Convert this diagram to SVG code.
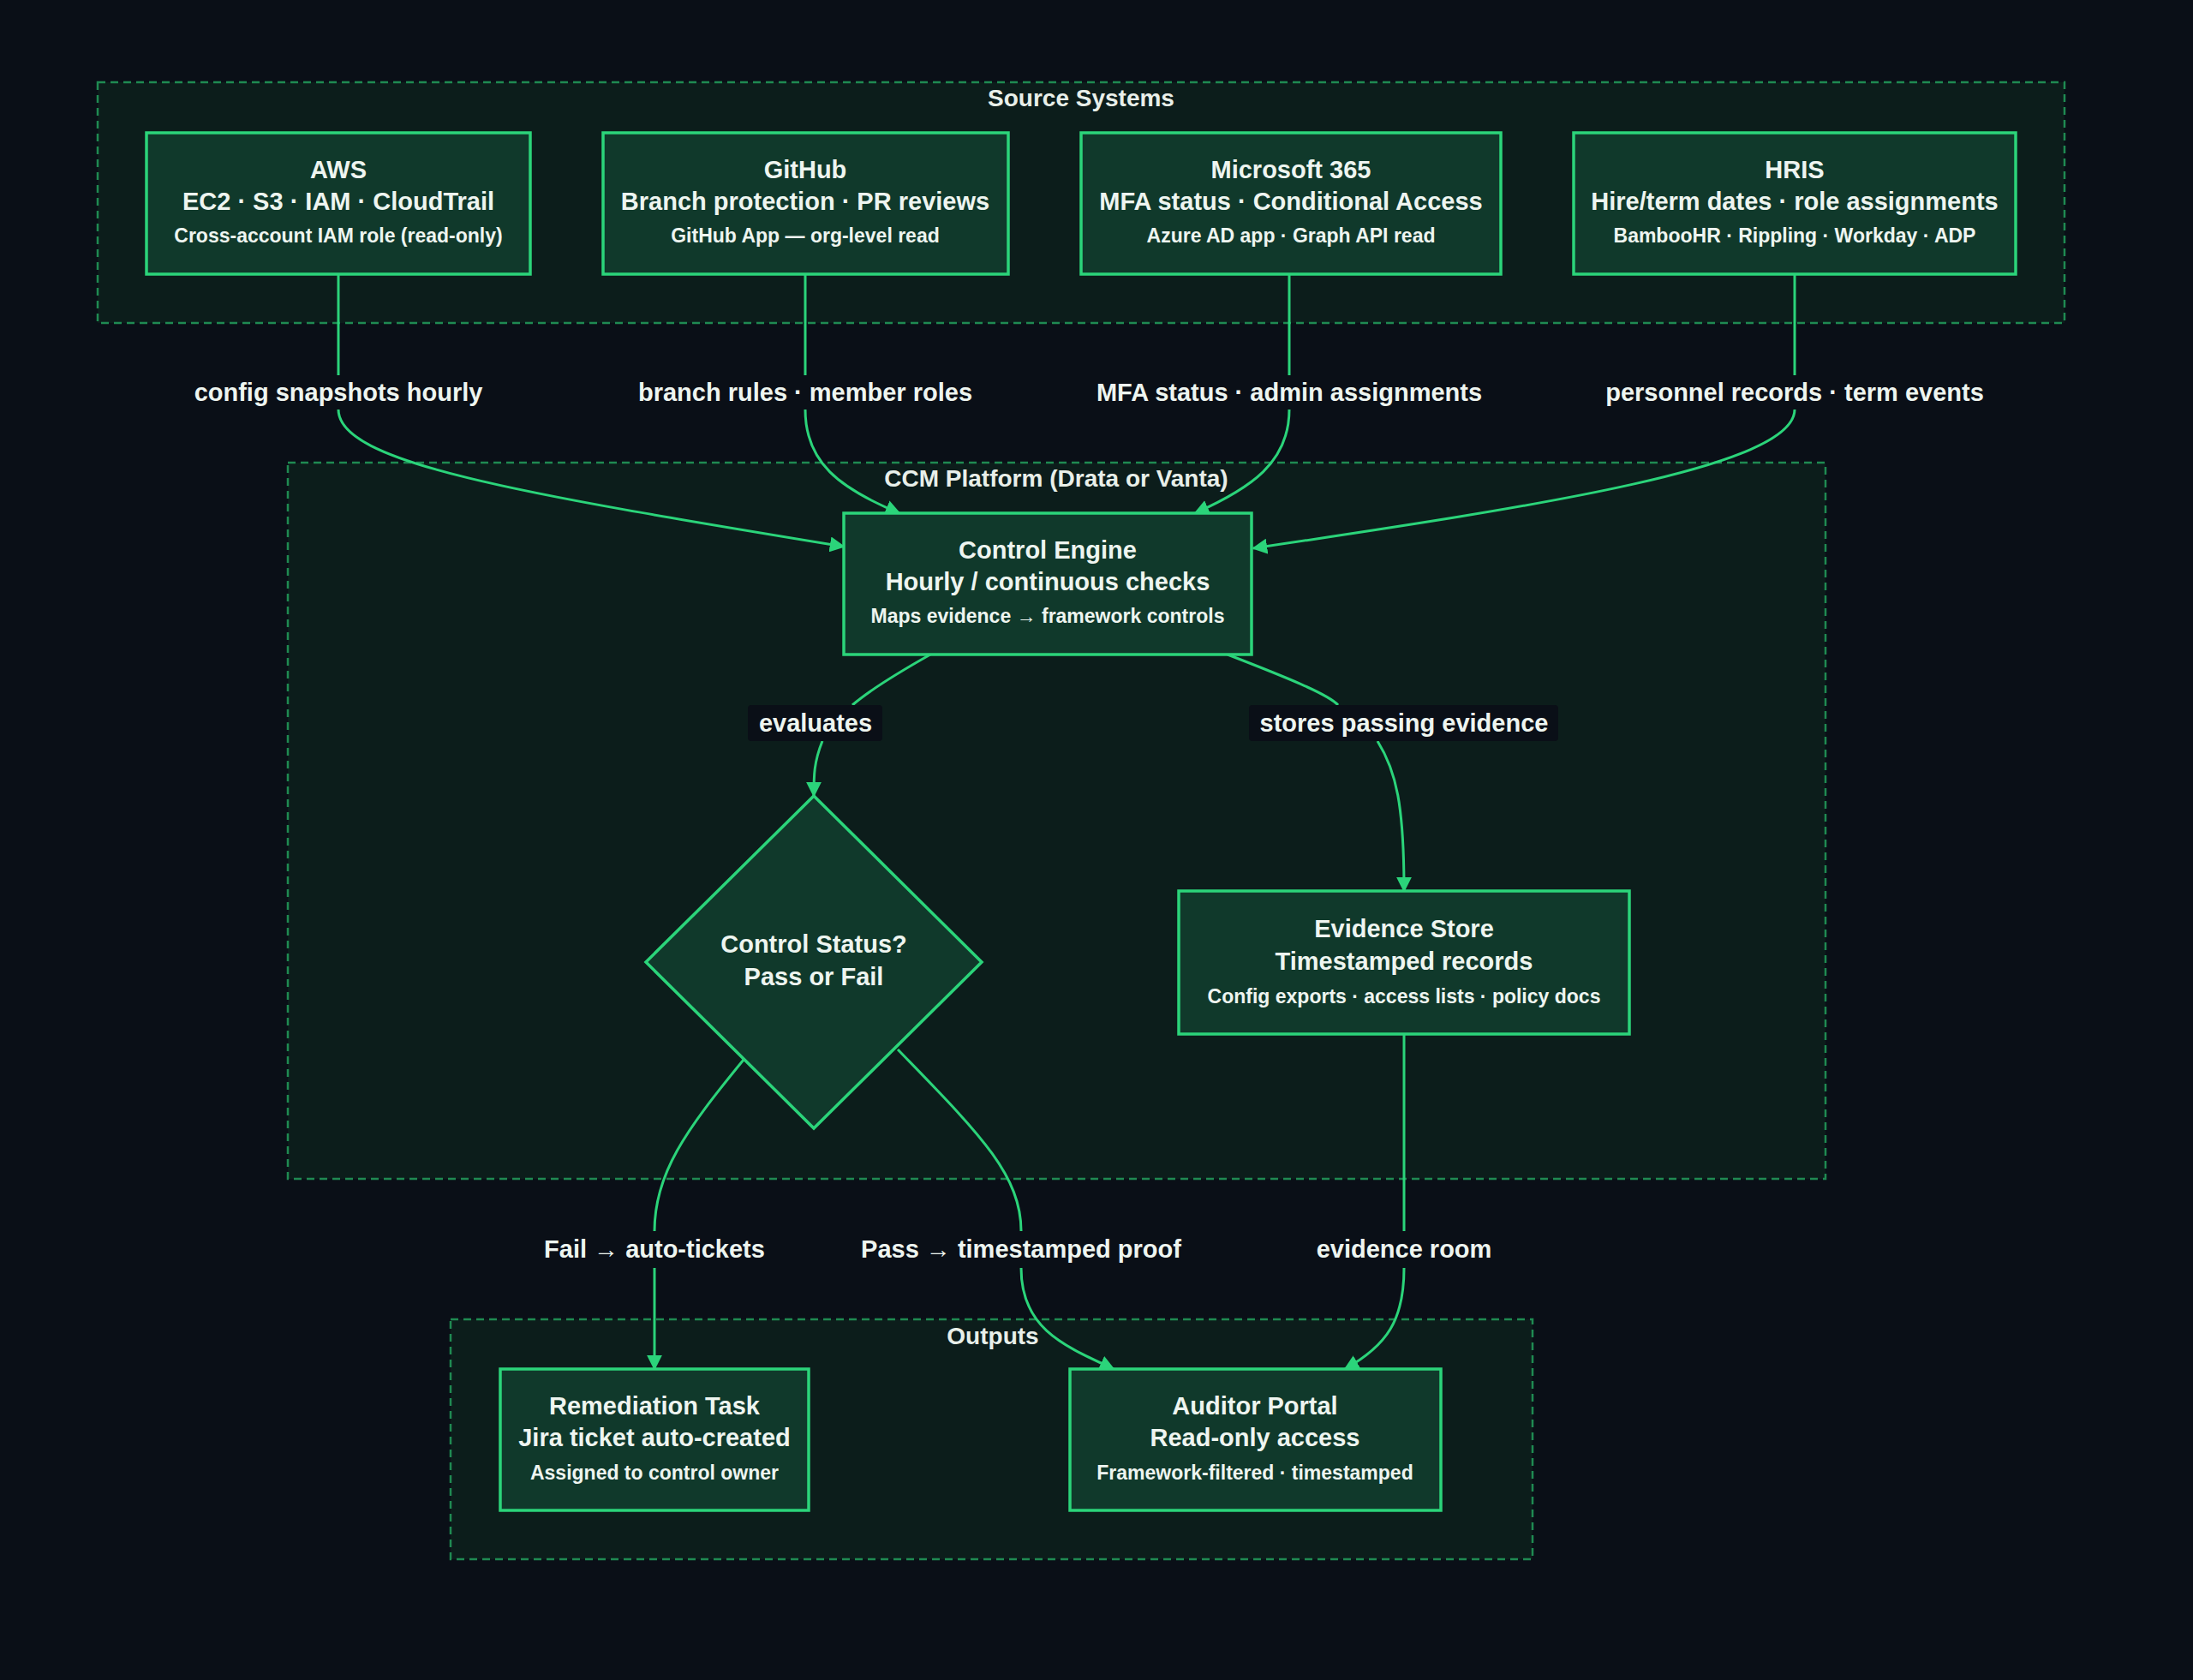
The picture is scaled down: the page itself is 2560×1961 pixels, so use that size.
<svg xmlns="http://www.w3.org/2000/svg" width="2560" height="1961" viewBox="0 0 2560 1961">
<style>
.cl{fill:#0c1d1b;stroke:#1f8a52;stroke-width:2.5;stroke-dasharray:9 6}
.ct{fill:#e8efe9;font:bold 28px "Liberation Sans",Arial,sans-serif;text-anchor:middle}
.nd{fill:#10392b;stroke:#2bd47a;stroke-width:3.5}
.t1{fill:#eef5f0;font:bold 29px "Liberation Sans",Arial,sans-serif;text-anchor:middle}
.t2{fill:#eef5f0;font:bold 23px "Liberation Sans",Arial,sans-serif;text-anchor:middle}
.e{fill:none;stroke:#2bd47a;stroke-width:3}
.el{fill:#eef5f0;font:bold 29px "Liberation Sans",Arial,sans-serif;text-anchor:middle}
.lb{fill:#0a0f17}
</style>
<defs><marker id="a" viewBox="0 0 10 10" refX="9" refY="5" markerWidth="6" markerHeight="6" orient="auto"><path d="M0,0L10,5L0,10z" fill="#2bd47a"/></marker></defs>
<rect width="2560" height="1961" fill="#0a0f17"/>
<g id="source-systems"><rect class="cl" x="114" y="96" width="2296" height="281"/><text class="ct" x="1262" y="124">Source Systems</text></g>
<g id="ccm-platform"><rect class="cl" x="336" y="540" width="1795" height="836"/><text class="ct" x="1233" y="568">CCM Platform (Drata or Vanta)</text></g>
<g id="outputs"><rect class="cl" x="526" y="1540" width="1263" height="280"/><text class="ct" x="1159" y="1569">Outputs</text></g>
<g id="connectors">
<path class="e" d="M395,320V438"/><path class="e" marker-end="url(#a)" d="M395,478C395,540 600,575 985,638"/>
<path class="e" d="M940,320V438"/><path class="e" marker-end="url(#a)" d="M940,478C940,540 980,570 1050,599"/>
<path class="e" d="M1505,320V438"/><path class="e" marker-end="url(#a)" d="M1505,478C1505,540 1460,570 1395,599"/>
<path class="e" d="M2095,320V438"/><path class="e" marker-end="url(#a)" d="M2095,478C2095,545 1800,590 1463,640"/>
<path class="e" d="M1086,764C1040,790 1010,810 995,823"/><path class="e" marker-end="url(#a)" d="M960,865C950,890 950,905 950,929"/>
<path class="e" d="M1433,764C1500,790 1550,810 1562,823"/><path class="e" marker-end="url(#a)" d="M1608,865C1630,900 1639,940 1639,1040"/>
<path class="e" d="M868,1237C800,1320 764,1370 764,1437"/><path class="e" marker-end="url(#a)" d="M764,1480V1598"/>
<path class="e" d="M1048,1225C1140,1320 1192,1370 1192,1437"/><path class="e" marker-end="url(#a)" d="M1192,1480C1192,1550 1240,1570 1300,1598"/>
<path class="e" d="M1639,1207V1437"/><path class="e" marker-end="url(#a)" d="M1639,1480C1639,1540 1620,1570 1570,1598"/>
<text class="el" x="395" y="468">config snapshots hourly</text>
<text class="el" x="940" y="468">branch rules · member roles</text>
<text class="el" x="1505" y="468">MFA status · admin assignments</text>
<text class="el" x="2095" y="468">personnel records · term events</text>
<rect class="lb" x="873" y="823" width="157" height="42" rx="4"/><text class="el" x="952" y="854">evaluates</text>
<rect class="lb" x="1458" y="823" width="361" height="42" rx="4"/><text class="el" x="1639" y="854">stores passing evidence</text>
<text class="el" x="764" y="1468">Fail → auto-tickets</text>
<text class="el" x="1192" y="1468">Pass → timestamped proof</text>
<text class="el" x="1639" y="1468">evidence room</text>
</g>
<g id="aws"><rect class="nd" x="171" y="155" width="448" height="165"/><text class="t1" x="395" y="208">AWS</text><text class="t1" x="395" y="245">EC2 · S3 · IAM · CloudTrail</text><text class="t2" x="395" y="283">Cross-account IAM role (read-only)</text></g>
<g id="github"><rect class="nd" x="704" y="155" width="473" height="165"/><text class="t1" x="940" y="208">GitHub</text><text class="t1" x="940" y="245">Branch protection · PR reviews</text><text class="t2" x="940" y="283">GitHub App — org-level read</text></g>
<g id="m365"><rect class="nd" x="1262" y="155" width="490" height="165"/><text class="t1" x="1507" y="208">Microsoft 365</text><text class="t1" x="1507" y="245">MFA status · Conditional Access</text><text class="t2" x="1507" y="283">Azure AD app · Graph API read</text></g>
<g id="hris"><rect class="nd" x="1837" y="155" width="516" height="165"/><text class="t1" x="2095" y="208">HRIS</text><text class="t1" x="2095" y="245">Hire/term dates · role assignments</text><text class="t2" x="2095" y="283">BambooHR · Rippling · Workday · ADP</text></g>
<g id="control-engine"><rect class="nd" x="985" y="599" width="476" height="165"/><text class="t1" x="1223" y="652">Control Engine</text><text class="t1" x="1223" y="689">Hourly / continuous checks</text><text class="t2" x="1223" y="727">Maps evidence → framework controls</text></g>
<g id="control-status"><path class="nd" d="M950,929L1146,1123L950,1317L754,1123z"/><text class="t1" x="950" y="1112">Control Status?</text><text class="t1" x="950" y="1150">Pass or Fail</text></g>
<g id="evidence-store"><rect class="nd" x="1376" y="1040" width="526" height="167"/><text class="t1" x="1639" y="1094">Evidence Store</text><text class="t1" x="1639" y="1132">Timestamped records</text><text class="t2" x="1639" y="1171">Config exports · access lists · policy docs</text></g>
<g id="remediation"><rect class="nd" x="584" y="1598" width="360" height="165"/><text class="t1" x="764" y="1651">Remediation Task</text><text class="t1" x="764" y="1688">Jira ticket auto-created</text><text class="t2" x="764" y="1727">Assigned to control owner</text></g>
<g id="auditor-portal"><rect class="nd" x="1249" y="1598" width="433" height="165"/><text class="t1" x="1465" y="1651">Auditor Portal</text><text class="t1" x="1465" y="1688">Read-only access</text><text class="t2" x="1465" y="1727">Framework-filtered · timestamped</text></g>
</svg>
